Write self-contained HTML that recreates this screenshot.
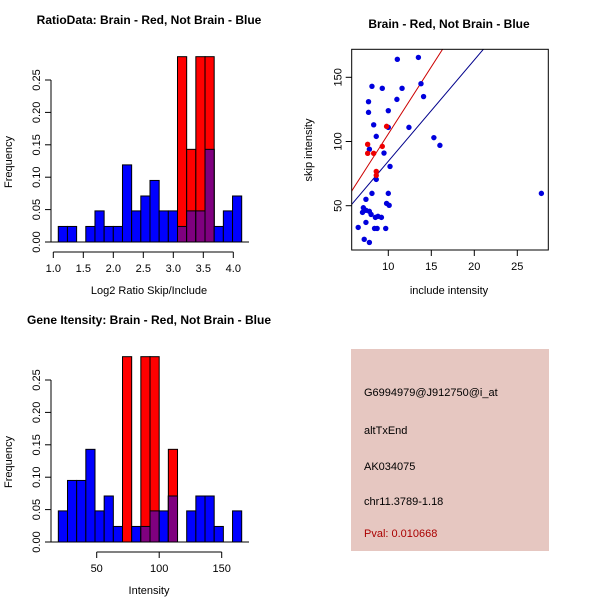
<!DOCTYPE html>
<html><head><meta charset="utf-8"><style>
body{margin:0;background:#fff}
svg{display:block;font-family:"Liberation Sans",sans-serif}
</style></head><body>
<svg id="s" width="600" height="600" xmlns="http://www.w3.org/2000/svg">
<rect width="600" height="600" fill="#fff"/>
</svg>
<script>
// ---- data ----
const ratioBlue=[0.024,0.024,0,0.024,0.048,0.024,0.024,0.119,0.048,0.071,0.095,0.048,0.048,0.024,0.048,0.048,0.143,0.024,0.048,0.071];
const ratioRed=[0,0,0,0,0,0,0,0,0,0,0,0,0,0.286,0.143,0.286,0.286,0,0,0];
const ratioXTicks=[1.0,1.5,2.0,2.5,3.0,3.5,4.0];
const intBlue=[0.048,0.095,0.095,0.143,0.048,0.071,0.024,0,0.024,0.024,0.048,0.048,0.071,0,0.048,0.071,0.071,0.024,0,0.048];
const intRed=[0,0,0,0,0,0,0,0.286,0,0.286,0.286,0,0.143,0,0,0,0,0,0,0];
const intXTicks=[50,100,150];
const freqTicks=[0,0.05,0.10,0.15,0.20,0.25];
const blueX=[11.05,13.5,8.1,9.3,11.6,13.8,14.1,11.0,7.7,7.7,10,8.3,10,12.4,8.6,15.3,16.0,7.8,9.5,10.2,8.6,8.1,10,27.8,7.4,9.8,10.1,7.1,7.0,7.4,7.8,8.0,8.5,8.8,9.2,6.5,7.4,8.4,8.7,9.7,7.2,7.8];
const blueY=[164,165.5,143,141.4,141.4,145,135,132.8,131,122.7,124,113,111,111,104,103,97,94,91,80.6,70.5,59.6,59.6,59.6,55,51.8,50.3,48.4,44.8,46.4,45.6,43.2,40.9,41.7,40.9,33.1,37,32.3,32.3,32.3,23.8,21.4];
const redX=[7.6,7.6,8.3,9.3,9.8,8.6,8.6];
const redY=[97.8,90.8,90.8,96.2,111.8,76.7,73.6];
const fitRed=[1.4,10.45];
const fitBlue=[5.7,7.89];
const scatXTicks=[10,15,20,25];
const scatYTicks=[50,100,150];
const infoLines=["G6994979@J912750@i_at","altTxEnd","AK034075","chr11.3789-1.18"];
const pval="Pval: 0.010668";

const NS="http://www.w3.org/2000/svg";
const svg=document.getElementById('s');
function mk(tag,attrs,parent){const e=document.createElementNS(NS,tag);for(const k in attrs)e.setAttribute(k,attrs[k]);(parent||svg).appendChild(e);return e;}
function txt(str,x,y,opt,name){const t=mk('text',Object.assign({x:x,y:y,'font-size':11,fill:'#000'},opt||{}));t.textContent=str;


return t;}
function fmt2(v){return v.toFixed(2);}

function histogram(cfg){
  const g=mk('g',{});
  
  
  const y0=cfg.y0, ys=648;
  const Y=v=>y0-v*ys;
  const X=v=>cfg.xpx0+(v-cfg.xv0)*cfg.xs;
  const n=cfg.blue.length, bw=(cfg.hi-cfg.lo)/n;
  for(let i=0;i<n;i++){
    const a=X(cfg.lo+i*bw), b=X(cfg.lo+(i+1)*bw);
    const bv=cfg.blue[i], rv=cfg.red[i];
    if(bv>0){const r=mk('rect',{x:a,y:Y(bv),width:b-a,height:y0-Y(bv),fill:'#0000ff',stroke:'#000','stroke-width':1},g);
      
      }
    if(rv>0){const r=mk('rect',{x:a,y:Y(rv),width:b-a,height:y0-Y(rv),fill:'#ff0000',stroke:'#000','stroke-width':1},g);
      
      
      if(bv>0){const m=Math.min(bv,rv);const p=mk('rect',{x:a,y:Y(m),width:b-a,height:y0-Y(m),fill:'#7f007f',stroke:'#000','stroke-width':1},g);
        
        }}
  }
  mk('line',{x1:50,y1:y0,x2:249,y2:y0,stroke:'#000'},g);
  mk('line',{x1:cfg.yax,y1:Y(0),x2:cfg.yax,y2:Y(0.25),stroke:'#000'},g);
  freqTicks.forEach(v=>{mk('line',{x1:cfg.yax,y1:Y(v),x2:cfg.yax-6,y2:Y(v),stroke:'#000'},g);
    txt(fmt2(v),0,0,{transform:`translate(${cfg.yax-11},${Y(v)}) rotate(-90)`,'text-anchor':'middle'},'y-tick-label');});
  const ax=y0+10;
  mk('line',{x1:X(cfg.ticks[0]),y1:ax,x2:X(cfg.ticks[cfg.ticks.length-1]),y2:ax,stroke:'#000'},g);
  cfg.ticks.forEach(v=>{mk('line',{x1:X(v),y1:ax,x2:X(v),y2:ax+6,stroke:'#000'},g);
    txt(cfg.tfmt(v),X(v),ax+20,{'text-anchor':'middle'},'x-tick-label');});
  txt(cfg.xlabel,149,y0+52,{'text-anchor':'middle'},'x-axis-title');
  txt('Frequency',0,0,{transform:`translate(12,${y0-80}) rotate(-90)`,'text-anchor':'middle'},'y-axis-title');
  txt(cfg.title,149,y0-218,{'text-anchor':'middle','font-weight':'bold','font-size':12},'chart-title');
}
histogram({name:'ratio-histogram',y0:242,xpx0:53.3,xv0:1.0,xs:60,lo:1.083,hi:4.14,blue:ratioBlue,red:ratioRed,ticks:ratioXTicks,tfmt:v=>v.toFixed(1),yax:51,xlabel:'Log2 Ratio Skip/Include',title:'RatioData: Brain - Red, Not Brain - Blue'});
histogram({name:'intensity-histogram',y0:542,xpx0:96.7,xv0:50,xs:1.25,lo:19.3,hi:166,blue:intBlue,red:intRed,ticks:intXTicks,tfmt:v=>String(v),yax:51,xlabel:'Intensity',title:'Gene Itensity: Brain - Red, Not Brain - Blue'});

// scatter
(function(){
  const g=mk('g',{});
  
  
  const L=351.7,R=548.3,T=49.3,B=250;
  const X=v=>388.3+(v-10)*8.6, Y=v=>205.7-(v-50)*1.284;
  const xmin=5.74,xmax=28.6;
  const cp=mk('clipPath',{id:'cp'},g);
  mk('rect',{x:L,y:T,width:R-L,height:B-T},cp);
  [[fitRed,'#cc0000','red-fit-line'],[fitBlue,'#00008b','blue-fit-line']].forEach(([f,c,n])=>{
    const l=mk('line',{x1:X(xmin),y1:Y(f[0]+f[1]*xmin),x2:X(xmax),y2:Y(f[0]+f[1]*xmax),stroke:c,'clip-path':'url(#cp)'},g);
    
    
  });
  blueX.forEach((x,i)=>{const c=mk('circle',{cx:X(x),cy:Y(blueY[i]),r:2.7,fill:'#0000dd'},g);
    
    });
  redX.forEach((x,i)=>{const c=mk('circle',{cx:X(x),cy:Y(redY[i]),r:2.7,fill:'#ee0000'},g);
    
    });
  mk('rect',{x:L,y:T,width:R-L,height:B-T,fill:'none',stroke:'#000'},g);
  scatXTicks.forEach(v=>{mk('line',{x1:X(v),y1:B,x2:X(v),y2:B+6,stroke:'#000'},g);txt(String(v),X(v),B+20,{'text-anchor':'middle'},'x-tick-label');});
  scatYTicks.forEach(v=>{mk('line',{x1:L,y1:Y(v),x2:L-6,y2:Y(v),stroke:'#000'},g);txt(String(v),0,0,{transform:`translate(${L-10},${Y(v)}) rotate(-90)`,'text-anchor':'middle'},'y-tick-label');});
  txt('include intensity',449,294,{'text-anchor':'middle'},'x-axis-title');
  txt('skip intensity',0,0,{transform:'translate(312,150) rotate(-90)','text-anchor':'middle'},'y-axis-title');
  txt('Brain - Red, Not Brain - Blue',449,28,{'text-anchor':'middle','font-weight':'bold','font-size':12},'chart-title');
})();

// info box
(function(){
  const r=mk('rect',{x:351,y:349,width:198,height:202,fill:'#e6c7c1'});
  
  
  const ys=[396,434,470,505];
  infoLines.forEach((s,i)=>txt(s,364,ys[i],{},'info-line'));
  txt(pval,364,537,{fill:'#aa0000'},'p-value');
})();
</script>
</body></html>
